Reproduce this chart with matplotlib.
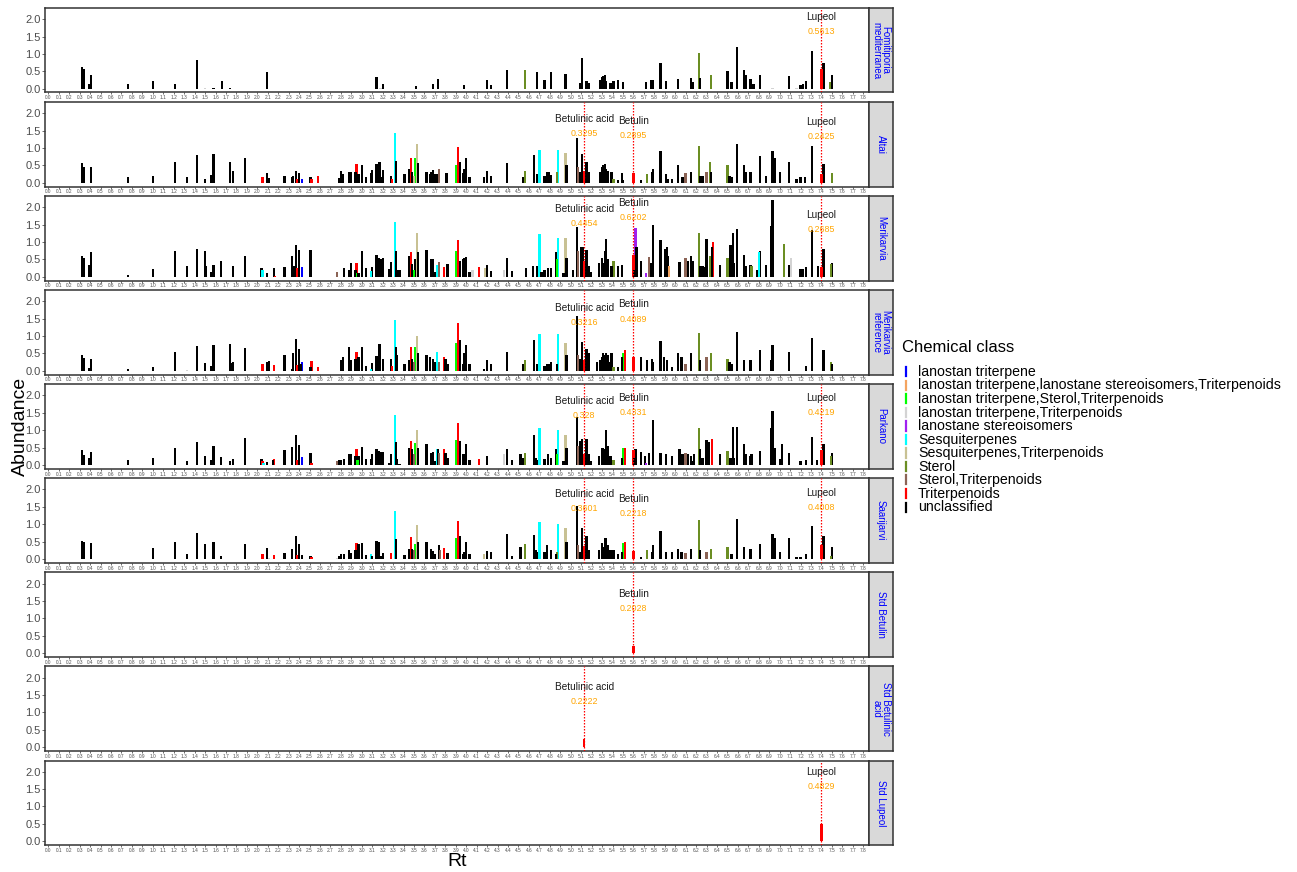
import numpy as np
import matplotlib.pyplot as plt
from matplotlib.lines import Line2D

plt.rcParams['font.family'] = ['Liberation Sans', 'DejaVu Sans']

# chemical classes (code, legend label, colour)
class_codes = ['L', 'LLT', 'LST', 'LT', 'P', 'S', 'ST', 'O', 'OT', 'T', 'U']
class_names = ['lanostan triterpene',
               'lanostan triterpene,lanostane stereoisomers,Triterpenoids',
               'lanostan triterpene,Sterol,Triterpenoids',
               'lanostan triterpene,Triterpenoids',
               'lanostane stereoisomers',
               'Sesquiterpenes',
               'Sesquiterpenes,Triterpenoids',
               'Sterol',
               'Sterol,Triterpenoids',
               'Triterpenoids',
               'unclassified']
class_colors = ['#0000FF', '#F4A460', '#00FF00', '#D3D3D3', '#A020F0', '#00FFFF',
                '#C8C193', '#6B8E23', '#8B6355', '#FF0000', '#000000']

# marked compounds
compounds = ['Betulinic acid', 'Betulin', 'Lupeol']
compound_rt = [5.13, 5.60, 7.40]

# (Rt, abundance, class code)
fomitiporia = [
    (0.32,0.62,'U'),(0.34,0.57,'U'),(0.39,0.12,'U'),(0.41,0.40,'U'),(0.76,0.12,'U'),(1.00,0.21,'U'),
    (1.21,0.14,'U'),(1.42,0.83,'U'),(1.50,0.02,'LT'),(1.58,0.03,'U'),(1.66,0.23,'U'),(1.74,0.03,'U'),
    (2.09,0.48,'U'),(3.14,0.34,'U'),(3.18,0.03,'LT'),(3.20,0.12,'U'),(3.52,0.08,'U'),(3.68,0.14,'U'),
    (3.73,0.29,'U'),(3.98,0.10,'U'),(4.20,0.24,'U'),(4.24,0.10,'U'),(4.39,0.55,'U'),(4.56,0.54,'O'),
    (4.68,0.48,'U'),(4.75,0.24,'U'),(4.81,0.47,'U'),(4.95,0.43,'U'),(5.09,0.15,'U'),(5.11,0.88,'U'),
    (5.15,0.23,'U'),(5.17,0.15,'U'),(5.28,0.25,'U'),(5.30,0.33,'U'),(5.31,0.36,'U'),(5.33,0.38,'U'),
    (5.34,0.22,'U'),(5.38,0.15,'U'),(5.41,0.22,'U'),(5.45,0.25,'U'),(5.50,0.18,'U'),(5.72,0.18,'U'),
    (5.77,0.25,'U'),(5.79,0.25,'U'),(5.86,0.75,'U'),(5.91,0.22,'U'),(6.03,0.28,'U'),(6.15,0.30,'U'),
    (6.17,0.20,'U'),(6.23,1.02,'O'),(6.24,0.30,'U'),(6.34,0.38,'O'),(6.50,0.50,'U'),(6.54,0.20,'U'),
    (6.59,1.20,'U'),(6.66,0.55,'U'),(6.68,0.40,'U'),(6.72,0.27,'U'),(6.75,0.12,'U'),(6.81,0.38,'U'),
    (6.93,0.02,'LT'),(7.09,0.35,'U'),(7.16,0.02,'LT'),(7.20,0.10,'U'),(7.22,0.12,'U'),(7.25,0.22,'U'),
    (7.31,1.08,'U'),(7.42,0.75,'U'),(7.48,0.20,'O'),(7.50,0.38,'U')]
fomitiporia_marks = [None, None, 0.5613]

altai = [
    (0.32,0.58,'U'),(0.34,0.45,'U'),(0.41,0.45,'U'),(0.76,0.17,'U'),(1.00,0.20,'U'),(1.21,0.60,'U'),
    (1.33,0.15,'U'),(1.42,0.80,'U'),(1.50,0.10,'U'),(1.56,0.22,'U'),(1.58,0.83,'U'),(1.74,0.60,'U'),
    (1.77,0.33,'U'),(1.88,0.70,'U'),(2.05,0.15,'T'),(2.09,0.27,'U'),(2.11,0.14,'U'),(2.26,0.20,'U'),
    (2.33,0.17,'U'),(2.34,0.20,'U'),(2.37,0.34,'U'),(2.38,0.10,'T'),(2.40,0.27,'U'),(2.43,0.12,'L'),
    (2.51,0.15,'U'),(2.52,0.10,'T'),(2.58,0.20,'T'),(2.78,0.13,'U'),(2.80,0.35,'U'),(2.82,0.25,'U'),
    (2.88,0.30,'U'),(2.90,0.30,'U'),(2.94,0.30,'U'),(2.95,0.55,'T'),(2.97,0.25,'U'),(3.00,0.52,'U'),
    (3.04,0.15,'U'),(3.09,0.28,'U'),(3.10,0.38,'U'),(3.14,0.53,'U'),(3.16,0.55,'U'),(3.17,0.60,'U'),
    (3.18,0.15,'U'),(3.20,0.38,'U'),(3.28,0.20,'U'),(3.29,0.12,'T'),(3.32,1.42,'S'),(3.33,0.62,'U'),
    (3.41,0.25,'U'),(3.45,0.40,'U'),(3.47,0.72,'T'),(3.48,0.30,'U'),(3.50,0.20,'ST'),(3.51,0.70,'LST'),
    (3.53,1.10,'ST'),(3.54,0.58,'U'),(3.62,0.32,'U'),(3.65,0.25,'U'),(3.66,0.30,'U'),(3.68,0.38,'U'),
    (3.70,0.25,'U'),(3.72,0.25,'U'),(3.74,0.40,'OT'),(3.81,0.28,'U'),(3.90,0.52,'LST'),(3.92,1.03,'T'),
    (3.94,0.60,'U'),(3.97,0.28,'U'),(3.98,0.40,'U'),(4.00,0.70,'U'),(4.03,0.15,'U'),(4.17,0.15,'U'),
    (4.20,0.35,'U'),(4.24,0.20,'U'),(4.39,0.57,'U'),(4.54,0.15,'U'),(4.56,0.35,'O'),(4.65,0.80,'U'),
    (4.68,0.25,'U'),(4.70,0.95,'S'),(4.75,0.20,'U'),(4.77,0.30,'U'),(4.79,0.30,'U'),(4.81,0.22,'U'),
    (4.87,0.30,'O'),(4.88,0.95,'S'),(4.95,0.85,'ST'),(4.96,0.50,'U'),(5.06,1.30,'U'),(5.07,0.45,'OT'),
    (5.09,0.30,'U'),(5.11,0.83,'U'),(5.15,0.60,'U'),(5.17,0.30,'U'),(5.28,0.30,'U'),(5.30,0.45,'U'),
    (5.31,0.50,'U'),(5.33,0.55,'U'),(5.34,0.40,'U'),(5.36,0.35,'U'),(5.39,0.30,'U'),(5.41,0.10,'O'),
    (5.45,0.08,'U'),(5.49,0.27,'U'),(5.50,0.08,'U'),(5.67,0.08,'U'),(5.73,0.25,'O'),(5.78,0.30,'U'),
    (5.79,0.40,'U'),(5.86,0.90,'U'),(5.91,0.25,'U'),(5.93,0.12,'U'),(5.97,0.10,'U'),(6.03,0.50,'U'),
    (6.07,0.17,'U'),(6.10,0.28,'OT'),(6.15,0.30,'U'),(6.23,1.05,'O'),(6.24,0.20,'U'),(6.26,0.18,'U'),
    (6.30,0.30,'OT'),(6.33,0.60,'O'),(6.34,0.30,'U'),(6.50,0.52,'O'),(6.52,0.20,'U'),(6.54,0.15,'U'),
    (6.59,1.12,'U'),(6.66,0.50,'U'),(6.68,0.30,'U'),(6.72,0.30,'U'),(6.81,0.78,'U'),(6.87,0.20,'U'),
    (6.93,0.90,'U'),(6.95,0.70,'U'),(7.00,0.30,'U'),(7.09,0.60,'U'),(7.16,0.12,'U'),(7.20,0.15,'U'),
    (7.24,0.17,'U'),(7.31,1.07,'U'),(7.42,0.55,'U'),(7.50,0.27,'O')]
altai_marks = [0.3295, 0.2895, 0.2425]

merikarvia = [
    (0.32,0.60,'U'),(0.34,0.53,'U'),(0.39,0.35,'U'),(0.41,0.70,'U'),(0.76,0.06,'U'),(1.00,0.23,'U'),
    (1.21,0.75,'U'),(1.33,0.30,'U'),(1.42,0.80,'U'),(1.50,0.73,'U'),(1.51,0.30,'U'),(1.56,0.15,'U'),
    (1.58,0.35,'U'),(1.65,0.45,'U'),(1.77,0.30,'U'),(1.88,0.60,'U'),(2.04,0.25,'U'),(2.05,0.20,'S'),
    (2.09,0.12,'U'),(2.16,0.25,'U'),(2.17,0.03,'T'),(2.26,0.28,'U'),(2.33,0.60,'U'),(2.35,0.30,'U'),
    (2.37,0.92,'U'),(2.38,0.25,'T'),(2.40,0.78,'U'),(2.43,0.28,'L'),(2.51,0.78,'U'),(2.76,0.15,'OT'),
    (2.83,0.25,'U'),(2.88,0.20,'U'),(2.90,0.40,'U'),(2.94,0.20,'U'),(2.95,0.40,'T'),(2.96,0.10,'LST'),
    (2.97,0.10,'U'),(3.00,0.75,'U'),(3.04,0.25,'U'),(3.09,0.18,'S'),(3.10,0.28,'U'),(3.14,0.63,'U'),
    (3.16,0.55,'U'),(3.18,0.52,'U'),(3.20,0.53,'U'),(3.26,0.22,'U'),(3.28,0.42,'U'),(3.32,1.58,'S'),
    (3.33,0.75,'U'),(3.34,0.20,'U'),(3.36,0.20,'U'),(3.45,0.60,'U'),(3.47,0.72,'T'),(3.48,0.38,'U'),
    (3.50,0.20,'LST'),(3.51,0.50,'U'),(3.53,1.25,'ST'),(3.54,0.72,'U'),(3.62,0.78,'U'),(3.66,0.50,'U'),
    (3.68,0.52,'U'),(3.70,0.15,'U'),(3.72,0.35,'S'),(3.74,0.43,'OT'),(3.79,0.28,'T'),(3.82,0.38,'U'),
    (3.90,0.73,'LST'),(3.92,1.05,'T'),(3.94,0.45,'U'),(3.97,0.50,'U'),(3.98,0.55,'U'),(4.00,0.58,'U'),
    (4.03,0.15,'U'),(4.06,0.20,'LT'),(4.12,0.27,'T'),(4.18,0.25,'ST'),(4.20,0.33,'U'),(4.24,0.18,'U'),
    (4.36,0.20,'LT'),(4.39,0.55,'U'),(4.44,0.18,'U'),(4.57,0.25,'U'),(4.64,0.30,'U'),(4.68,0.30,'U'),
    (4.70,1.22,'S'),(4.72,0.15,'U'),(4.75,0.20,'U'),(4.78,0.25,'U'),(4.81,0.25,'U'),(4.86,0.70,'U'),
    (4.87,0.50,'LST'),(4.88,1.12,'S'),(4.93,0.10,'U'),(4.95,1.12,'ST'),(4.96,0.53,'U'),(5.02,0.20,'U'),
    (5.06,1.42,'U'),(5.07,0.75,'OT'),(5.10,0.85,'U'),(5.12,0.85,'U'),(5.15,0.78,'U'),(5.17,0.30,'U'),
    (5.19,0.15,'U'),(5.27,0.40,'U'),(5.30,0.55,'U'),(5.31,0.40,'U'),(5.33,0.75,'U'),(5.34,1.10,'U'),
    (5.36,0.50,'U'),(5.39,0.30,'U'),(5.41,0.45,'O'),(5.45,0.30,'U'),(5.49,0.35,'U'),(5.61,0.20,'U'),
    (5.62,1.40,'P'),(5.63,0.85,'U'),(5.67,0.45,'U'),(5.72,0.12,'P'),(5.75,0.58,'OT'),(5.77,0.40,'U'),
    (5.79,1.50,'U'),(5.86,1.05,'U'),(5.90,0.80,'U'),(5.92,0.85,'U'),(5.93,0.60,'U'),(5.94,0.30,'LLT'),
    (6.04,0.42,'U'),(6.10,0.55,'OT'),(6.12,0.45,'U'),(6.15,0.60,'U'),(6.17,0.45,'U'),(6.23,1.25,'O'),
    (6.24,0.30,'U'),(6.26,0.30,'U'),(6.29,0.28,'U'),(6.30,1.10,'U'),(6.33,0.60,'O'),(6.35,0.85,'U'),
    (6.36,1.00,'T'),(6.43,0.35,'U'),(6.50,0.55,'O'),(6.53,0.90,'U'),(6.55,1.25,'U'),(6.56,0.40,'U'),
    (6.59,1.38,'U'),(6.66,0.62,'U'),(6.68,0.30,'U'),(6.72,0.35,'U'),(6.73,0.30,'O'),(6.78,0.20,'U'),
    (6.80,0.72,'S'),(6.81,0.73,'U'),(6.87,0.35,'U'),(6.92,1.45,'U'),(6.93,2.20,'U'),(7.04,0.93,'O'),
    (7.09,0.35,'U'),(7.11,0.55,'LT'),(7.20,0.22,'U'),(7.22,0.22,'U'),(7.25,0.28,'U'),(7.31,1.35,'U'),
    (7.37,0.30,'U'),(7.42,0.80,'U'),(7.49,0.38,'O'),(7.50,0.40,'U')]
merikarvia_marks = [0.4454, 0.6202, 0.2685]

merikarvia_ref = [
    (0.32,0.45,'U'),(0.34,0.38,'U'),(0.39,0.08,'U'),(0.41,0.35,'U'),(0.76,0.06,'U'),(1.00,0.10,'U'),
    (1.21,0.55,'U'),(1.33,0.02,'LT'),(1.42,0.72,'U'),(1.50,0.22,'U'),(1.56,0.15,'U'),(1.58,0.73,'U'),
    (1.74,0.77,'U'),(1.76,0.22,'U'),(1.77,0.25,'U'),(1.88,0.65,'U'),(2.05,0.20,'T'),(2.09,0.25,'U'),
    (2.11,0.27,'U'),(2.16,0.18,'T'),(2.26,0.45,'U'),(2.33,0.05,'U'),(2.34,0.50,'U'),(2.37,0.92,'U'),
    (2.38,0.17,'T'),(2.40,0.62,'U'),(2.42,0.20,'U'),(2.43,0.25,'L'),(2.51,0.10,'U'),(2.52,0.28,'T'),
    (2.58,0.12,'T'),(2.80,0.30,'U'),(2.82,0.40,'U'),(2.88,0.68,'U'),(2.90,0.30,'U'),(2.94,0.35,'U'),
    (2.95,0.55,'T'),(2.97,0.40,'U'),(3.00,0.70,'U'),(3.04,0.15,'U'),(3.09,0.05,'S'),(3.10,0.22,'U'),
    (3.14,0.42,'U'),(3.16,0.30,'U'),(3.17,0.77,'U'),(3.20,0.35,'U'),(3.28,0.35,'U'),(3.29,0.15,'T'),
    (3.32,1.45,'S'),(3.33,0.68,'U'),(3.34,0.47,'U'),(3.41,0.20,'U'),(3.45,0.32,'U'),(3.47,0.70,'T'),
    (3.48,0.33,'U'),(3.50,0.25,'OT'),(3.51,0.68,'LST'),(3.53,1.00,'ST'),(3.54,0.50,'U'),(3.62,0.45,'U'),
    (3.65,0.40,'U'),(3.68,0.35,'U'),(3.70,0.25,'U'),(3.72,0.55,'S'),(3.74,0.25,'OT'),(3.79,0.40,'T'),
    (3.80,0.35,'U'),(3.82,0.20,'U'),(3.90,0.80,'LST'),(3.92,1.37,'T'),(3.94,0.90,'U'),(3.97,0.20,'U'),
    (3.98,0.50,'U'),(4.00,0.75,'U'),(4.03,0.20,'U'),(4.17,0.05,'U'),(4.20,0.30,'U'),(4.24,0.20,'U'),
    (4.39,0.55,'U'),(4.54,0.20,'U'),(4.56,0.30,'O'),(4.65,0.90,'U'),(4.68,0.20,'U'),(4.70,1.05,'S'),
    (4.75,0.15,'U'),(4.77,0.20,'U'),(4.79,0.20,'U'),(4.81,0.25,'U'),(4.87,0.20,'U'),(4.88,1.05,'S'),
    (4.95,0.80,'ST'),(4.96,0.45,'U'),(5.06,1.58,'U'),(5.07,0.45,'OT'),(5.09,0.35,'U'),(5.11,0.83,'U'),
    (5.15,0.63,'U'),(5.17,0.50,'U'),(5.25,0.25,'U'),(5.28,0.30,'U'),(5.30,0.40,'U'),(5.31,0.50,'U'),
    (5.33,0.45,'U'),(5.34,0.52,'U'),(5.36,0.45,'U'),(5.37,0.25,'U'),(5.39,0.50,'U'),(5.41,0.10,'O'),
    (5.45,0.10,'U'),(5.49,0.40,'U'),(5.50,0.52,'LST'),(5.52,0.60,'T'),(5.67,0.40,'U'),(5.73,0.30,'U'),
    (5.78,0.35,'U'),(5.79,0.25,'U'),(5.86,0.85,'U'),(5.89,0.40,'U'),(5.92,0.30,'U'),(5.97,0.10,'U'),
    (6.03,0.50,'U'),(6.06,0.40,'U'),(6.10,0.20,'OT'),(6.15,0.50,'U'),(6.23,1.10,'O'),(6.24,0.30,'U'),
    (6.30,0.40,'OT'),(6.34,0.50,'O'),(6.50,0.35,'O'),(6.52,0.25,'U'),(6.54,0.20,'U'),(6.59,1.12,'U'),
    (6.66,0.30,'U'),(6.72,0.30,'U'),(6.81,0.60,'U'),(6.92,0.30,'U'),(6.93,0.75,'U'),(7.09,0.53,'U'),
    (7.25,0.15,'U'),(7.31,0.95,'U'),(7.42,0.60,'U'),(7.49,0.25,'O'),(7.50,0.20,'U')]
merikarvia_ref_marks = [0.3216, 0.4089, None]

parkano = [
    (0.32,0.42,'U'),(0.34,0.28,'U'),(0.39,0.20,'U'),(0.41,0.38,'U'),(0.76,0.13,'U'),(1.00,0.20,'U'),
    (1.21,0.50,'U'),(1.33,0.10,'U'),(1.42,0.67,'U'),(1.50,0.25,'U'),(1.56,0.15,'U'),(1.58,0.55,'U'),
    (1.65,0.23,'U'),(1.74,0.12,'U'),(1.77,0.18,'U'),(1.88,0.78,'U'),(2.04,0.18,'U'),(2.05,0.12,'T'),
    (2.06,0.05,'S'),(2.09,0.08,'U'),(2.15,0.15,'U'),(2.16,0.18,'T'),(2.26,0.42,'U'),(2.33,0.52,'U'),
    (2.37,0.86,'U'),(2.38,0.15,'T'),(2.40,0.57,'U'),(2.43,0.23,'L'),(2.51,0.35,'U'),(2.52,0.05,'T'),
    (2.76,0.12,'OT'),(2.78,0.13,'U'),(2.80,0.15,'U'),(2.83,0.18,'U'),(2.88,0.30,'U'),(2.90,0.30,'U'),
    (2.94,0.25,'U'),(2.95,0.45,'T'),(2.96,0.15,'LST'),(2.97,0.25,'U'),(3.00,0.52,'U'),(3.04,0.18,'U'),
    (3.09,0.18,'U'),(3.10,0.32,'U'),(3.14,0.45,'U'),(3.16,0.40,'U'),(3.18,0.37,'U'),(3.20,0.37,'U'),
    (3.26,0.05,'U'),(3.28,0.30,'U'),(3.32,1.45,'S'),(3.33,0.65,'U'),(3.34,0.18,'U'),(3.36,0.03,'U'),
    (3.45,0.50,'U'),(3.47,0.70,'T'),(3.48,0.45,'U'),(3.50,0.30,'OT'),(3.51,0.63,'LST'),(3.53,1.00,'ST'),
    (3.54,0.50,'U'),(3.62,0.60,'U'),(3.66,0.35,'U'),(3.68,0.37,'U'),(3.70,0.10,'U'),(3.72,0.47,'S'),
    (3.73,0.45,'U'),(3.74,0.35,'OT'),(3.79,0.45,'T'),(3.80,0.35,'U'),(3.82,0.20,'U'),(3.90,0.72,'LST'),
    (3.92,1.20,'T'),(3.94,0.68,'U'),(3.97,0.30,'U'),(3.98,0.30,'U'),(4.00,0.60,'U'),(4.03,0.15,'U'),
    (4.12,0.17,'T'),(4.20,0.25,'U'),(4.36,0.30,'LT'),(4.39,0.45,'U'),(4.44,0.15,'U'),(4.52,0.30,'U'),
    (4.54,0.20,'U'),(4.56,0.35,'O'),(4.65,0.85,'U'),(4.67,0.20,'U'),(4.68,0.15,'U'),(4.70,1.05,'S'),
    (4.75,0.17,'U'),(4.78,0.30,'U'),(4.81,0.20,'U'),(4.86,0.47,'U'),(4.87,0.30,'LST'),(4.88,1.00,'S'),
    (4.93,0.10,'U'),(4.95,0.87,'ST'),(4.96,0.50,'U'),(5.06,1.38,'U'),(5.07,0.55,'OT'),(5.09,0.70,'U'),
    (5.11,0.75,'U'),(5.15,0.75,'U'),(5.17,0.30,'U'),(5.19,0.10,'U'),(5.27,0.25,'U'),(5.30,0.50,'U'),
    (5.31,0.50,'U'),(5.33,0.45,'U'),(5.34,1.00,'U'),(5.36,0.55,'U'),(5.38,0.25,'U'),(5.41,0.15,'O'),
    (5.49,0.20,'U'),(5.50,0.50,'LST'),(5.52,0.50,'T'),(5.61,0.20,'U'),(5.62,0.45,'U'),(5.67,0.37,'U'),
    (5.71,0.25,'U'),(5.72,0.05,'P'),(5.75,0.35,'U'),(5.79,1.30,'U'),(5.86,0.35,'U'),(5.91,0.30,'U'),
    (5.97,0.25,'U'),(6.04,0.47,'U'),(6.07,0.30,'U'),(6.10,0.35,'OT'),(6.12,0.30,'U'),(6.15,0.25,'U'),
    (6.17,0.10,'U'),(6.18,0.30,'U'),(6.23,1.05,'O'),(6.24,0.45,'U'),(6.26,0.20,'U'),(6.30,0.72,'U'),
    (6.32,0.65,'U'),(6.35,0.75,'T'),(6.43,0.30,'U'),(6.50,0.40,'O'),(6.53,0.20,'U'),(6.55,1.10,'U'),
    (6.56,0.20,'U'),(6.59,1.10,'U'),(6.66,0.60,'U'),(6.68,0.30,'U'),(6.72,0.25,'U'),(6.73,0.30,'U'),
    (6.81,0.40,'U'),(6.92,1.05,'U'),(6.93,1.55,'U'),(6.95,0.50,'U'),(7.00,0.17,'U'),(7.02,0.60,'U'),
    (7.09,0.35,'U'),(7.20,0.10,'U'),(7.25,0.15,'U'),(7.31,0.80,'U'),(7.36,0.15,'U'),(7.42,0.60,'U'),
    (7.49,0.25,'O'),(7.50,0.35,'U')]
parkano_marks = [0.328, 0.4331, 0.4219]

saarijarvi = [
    (0.32,0.52,'U'),(0.34,0.50,'U'),(0.41,0.45,'U'),(1.00,0.32,'U'),(1.21,0.48,'U'),(1.33,0.15,'U'),
    (1.42,0.75,'U'),(1.50,0.43,'U'),(1.58,0.48,'U'),(1.65,0.10,'U'),(1.88,0.44,'U'),(2.05,0.15,'T'),
    (2.09,0.32,'U'),(2.11,0.02,'LT'),(2.16,0.12,'T'),(2.26,0.18,'U'),(2.33,0.28,'U'),(2.37,0.67,'U'),
    (2.38,0.12,'T'),(2.40,0.44,'U'),(2.43,0.12,'U'),(2.51,0.08,'U'),(2.52,0.05,'T'),(2.76,0.02,'LT'),
    (2.78,0.10,'U'),(2.80,0.13,'U'),(2.83,0.13,'U'),(2.88,0.25,'U'),(2.90,0.18,'U'),(2.94,0.25,'U'),
    (2.95,0.47,'T'),(2.97,0.42,'U'),(3.00,0.45,'U'),(3.04,0.12,'U'),(3.09,0.15,'S'),(3.10,0.08,'U'),
    (3.14,0.52,'U'),(3.16,0.50,'U'),(3.18,0.10,'U'),(3.20,0.18,'U'),(3.28,0.18,'T'),(3.32,1.37,'S'),
    (3.33,0.58,'U'),(3.41,0.12,'U'),(3.45,0.30,'U'),(3.47,0.62,'T'),(3.48,0.30,'U'),(3.50,0.25,'OT'),
    (3.51,0.42,'LST'),(3.53,0.98,'ST'),(3.54,0.50,'U'),(3.62,0.50,'U'),(3.66,0.28,'U'),(3.68,0.22,'U'),
    (3.70,0.15,'U'),(3.74,0.40,'U'),(3.75,0.25,'OT'),(3.79,0.33,'T'),(3.82,0.18,'U'),(3.90,0.60,'LST'),
    (3.92,1.10,'T'),(3.94,0.65,'U'),(3.97,0.15,'U'),(3.98,0.20,'U'),(4.00,0.50,'U'),(4.03,0.15,'U'),
    (4.17,0.15,'ST'),(4.20,0.22,'U'),(4.24,0.20,'U'),(4.39,0.72,'U'),(4.44,0.10,'U'),(4.52,0.35,'U'),
    (4.56,0.42,'O'),(4.65,0.70,'U'),(4.67,0.25,'U'),(4.68,0.20,'U'),(4.70,1.05,'S'),(4.75,0.20,'U'),
    (4.77,0.40,'U'),(4.81,0.25,'U'),(4.86,0.15,'U'),(4.87,0.20,'O'),(4.88,1.02,'S'),(4.95,0.88,'ST'),
    (4.96,0.50,'U'),(5.06,1.52,'U'),(5.07,0.40,'OT'),(5.09,0.20,'U'),(5.11,0.90,'U'),(5.15,0.65,'U'),
    (5.17,0.25,'U'),(5.27,0.25,'U'),(5.30,0.45,'U'),(5.31,0.35,'U'),(5.33,0.60,'U'),(5.34,0.60,'U'),
    (5.36,0.40,'U'),(5.38,0.25,'U'),(5.41,0.25,'U'),(5.45,0.15,'U'),(5.49,0.20,'U'),(5.50,0.47,'LST'),
    (5.52,0.50,'T'),(5.67,0.05,'U'),(5.73,0.25,'O'),(5.78,0.20,'U'),(5.79,0.40,'U'),(5.86,0.80,'U'),
    (5.91,0.20,'U'),(5.97,0.20,'U'),(6.03,0.30,'U'),(6.06,0.20,'U'),(6.10,0.18,'OT'),(6.15,0.30,'U'),
    (6.23,1.12,'O'),(6.24,0.25,'U'),(6.30,0.20,'OT'),(6.34,0.28,'O'),(6.50,0.35,'O'),(6.54,0.15,'U'),
    (6.59,1.15,'U'),(6.66,0.35,'U'),(6.72,0.28,'U'),(6.81,0.42,'U'),(6.93,0.72,'U'),(6.95,0.60,'U'),
    (7.00,0.20,'U'),(7.09,0.60,'U'),(7.16,0.05,'U'),(7.20,0.05,'U'),(7.25,0.15,'U'),(7.31,0.95,'U'),
    (7.42,0.65,'U'),(7.49,0.10,'O'),(7.50,0.35,'U')]
saarijarvi_marks = [0.3601, 0.2218, 0.4008]

std_betulin_marks = [None, 0.2028, None]
std_betulinic_marks = [0.2222, None, None]
std_lupeol_marks = [None, None, 0.4829]

strip_labels = ['Fomitiporia\nmediterranea', 'Altai', 'Merikarvia', 'Merikarvia\nreference',
                'Parkano', 'Saarijarvi', 'Std Betulin', 'Std Betulinic\nacid', 'Std Lupeol']
panel_bars = [fomitiporia, altai, merikarvia, merikarvia_ref, parkano, saarijarvi, [], [], []]
panel_marks = [fomitiporia_marks, altai_marks, merikarvia_marks, merikarvia_ref_marks,
               parkano_marks, saarijarvi_marks, std_betulin_marks, std_betulinic_marks,
               std_lupeol_marks]

color_of = dict(zip(class_codes, class_colors))

W, H = 1297, 872
fig = plt.figure(figsize=(W / 100, H / 100), dpi=100)

x_left, x_right, strip_right = 45, 869, 893
top_px, bot_px, gap = 8, 845, 9.6
n = len(strip_labels)
ph = (bot_px - top_px - gap * (n - 1)) / n
xticks = np.round(np.arange(0, 7.81, 0.1), 1)

for i in range(n):
    y_top = top_px + i * (ph + gap)
    y0 = 1 - (y_top + ph) / H
    ax = fig.add_axes([x_left / W, y0, (x_right - x_left) / W, ph / H])

    bars = list(panel_bars[i])
    for rt, v in zip(compound_rt, panel_marks[i]):
        if v is not None:
            bars.append((rt, v, 'T'))
    bars.sort(key=lambda b: -b[1])
    if bars:
        ax.bar([b[0] for b in bars], [b[1] for b in bars], width=0.022,
               color=[color_of[b[2]] for b in bars], linewidth=0)

    for name, rt, v in zip(compounds, compound_rt, panel_marks[i]):
        if v is None:
            continue
        ax.axvline(rt, color='red', ls=(0, (1.2, 1.2)), lw=0.9, zorder=3)
        ax.text(rt, v + 1.5, name, ha='center', va='center', fontsize=7.2,
                color='#1A1A1A', zorder=4)
        ax.text(rt, v + 1.08, f'{v:g}', ha='center', va='center', fontsize=6.4,
                color='#FFA500', zorder=4)

    ax.set_xlim(-0.032, 7.855)
    ax.set_ylim(-0.11, 2.32)
    ax.set_xticks(xticks)
    ax.set_xticklabels([f'{t:.1f}' for t in xticks], fontsize=3.4, color='#4D4D4D')
    ax.set_yticks([0, 0.5, 1.0, 1.5, 2.0])
    ax.set_yticklabels(['0.0', '0.5', '1.0', '1.5', '2.0'], fontsize=8, color='#4D4D4D')
    ax.tick_params(axis='x', length=1.2, width=0.5, pad=0.8, colors='#333333', labelcolor='#4D4D4D')
    ax.tick_params(axis='y', length=2, width=0.5, pad=1, colors='#333333', labelcolor='#4D4D4D')
    for sp in ax.spines.values():
        sp.set_color('#333333')
        sp.set_linewidth(1.1)

    sax = fig.add_axes([x_right / W, y0, (strip_right - x_right) / W, ph / H])
    sax.set_facecolor('#D9D9D9')
    sax.set_xticks([])
    sax.set_yticks([])
    for sp in sax.spines.values():
        sp.set_color('#333333')
        sp.set_linewidth(1.1)
    sax.text(0.5, 0.5, strip_labels[i], rotation=270, ha='center', va='center',
             fontsize=7, color='#0000FF', linespacing=0.9, transform=sax.transAxes)

fig.text(20 / W, 1 - 426.5 / H, 'Abundance', rotation=90, ha='center', va='center', fontsize=14)
fig.text(457 / W, 1 - 861 / H, 'Rt', ha='center', va='center', fontsize=14)

# legend
fig.text(901.5 / W, 1 - 348 / H, 'Chemical class', ha='left', va='center', fontsize=12)
for j, (name, col) in enumerate(zip(class_names, class_colors)):
    yc = 372 + j * 13.5
    fig.add_artist(Line2D([905.7 / W, 905.7 / W], [1 - (yc - 4.5) / H, 1 - (yc + 4.5) / H],
                          color=col, lw=1.6))
    fig.text(918 / W, 1 - yc / H, name, ha='left', va='center', fontsize=10.2)

fig.savefig('out.png', dpi=100)
